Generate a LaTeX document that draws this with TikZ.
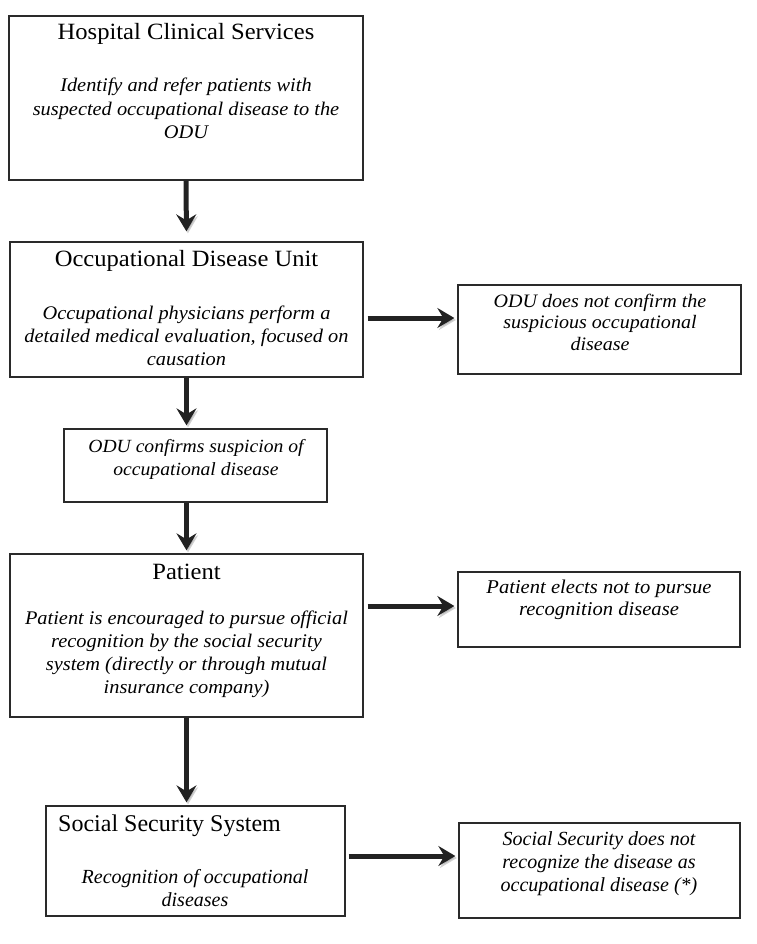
\documentclass[tikz,border=0pt]{standalone}
\usepackage{fontspec}
\setmainfont{Liberation Serif}
\newfontfamily\widefont[FakeStretch=1.055]{Liberation Serif}
\usetikzlibrary{arrows.meta}
\definecolor{boxc}{HTML}{2A2A2A}
\definecolor{arrc}{HTML}{222222}
\begin{document}
\begin{tikzpicture}[x=1pt,y=-1pt,
  box/.style={draw=boxc, line width=1.3pt, fill=white, inner sep=0pt},
  ttl/.style={anchor=base, inner sep=0pt, font=\fontsize{23.3}{27}\widefont},
  itx/.style={anchor=base, inner sep=0pt, align=center, font=\fontsize{19.3}{22.7}\widefont\itshape},
  arr/.style={line width=5pt, draw=arrc, -{Stealth[length=17pt,width=20pt,inset=6pt]},
    preaction={draw=black!40, opacity=0.45, transform canvas={shift={(1.5pt,-2pt)}}}}]
\useasboundingbox (0,0) rectangle (756,944);
% boxes
\node[box, minimum width=354pt, minimum height=164pt] (b1) at (186,98) {};
\node[box, minimum width=353pt, minimum height=135pt] (b2) at (186.5,309.5) {};
\node[box, minimum width=283pt, minimum height=89pt] (b3) at (599.5,329.5) {};
\node[box, minimum width=263pt, minimum height=73pt] (b4) at (195.5,465.5) {};
\node[box, minimum width=353pt, minimum height=163pt] (b5) at (186.5,635.5) {};
\node[box, minimum width=282pt, minimum height=75pt] (b6) at (599,609.5) {};
\node[box, minimum width=299pt, minimum height=110pt] (b7) at (195.5,861) {};
\node[box, minimum width=281pt, minimum height=95pt] (b8) at (599.5,870.5) {};
% texts (multi-line nodes: base = baseline of last line)
\node[ttl] (t1) at (186,40) {Hospital Clinical Services};
\node[itx, font=\fontsize{19.3}{23.5}\widefont\itshape] (i1) at (186,139) {Identify and refer patients with\\suspected occupational disease to the\\ODU};
\node[ttl] (t2) at (186.5,266) {Occupational Disease Unit};
\node[itx] (i2) at (186.5,365) {Occupational physicians perform a\\detailed medical evaluation, focused on\\causation};
\node[itx, font=\fontsize{19}{21.5}\widefont\itshape] (i3) at (600,350) {ODU does not confirm the\\suspicious occupational\\disease};
\node[itx, font=\fontsize{18.6}{23}\widefont\itshape] (i4) at (196,475) {ODU confirms suspicion of\\occupational disease};
\node[ttl] (t5) at (186.5,579) {Patient};
\node[itx] (i5) at (186.5,693) {Patient is encouraged to pursue official\\recognition by the social security\\system (directly or through mutual\\insurance company)};
\node[itx, font=\fontsize{19.5}{22}\widefont\itshape] (i6) at (599,615) {Patient elects not to pursue\\recognition disease};
\node[ttl, anchor=base west, font=\fontsize{24}{28}\selectfont] (t7) at (58,831) {Social Security System};
\node[itx, font=\fontsize{20}{23}\selectfont\itshape] (i7) at (195,906) {Recognition of occupational\\diseases};
\node[itx, font=\fontsize{20}{23}\selectfont\itshape] (i8) at (599,891) {Social Security does not\\recognize the disease as\\occupational disease (*)};
% helper coordinates for horizontal arrows
\coordinate (r1) at (0,318);
\coordinate (r2) at (0,606);
\coordinate (r3) at (0,856);
% arrows
\draw[arr, shorten >=10pt] (b1.south) -- (b2.north);
\draw[arr, shorten >=3pt] (b2.south) -- (b2.south |- b4.north);
\draw[arr, shorten >=3pt] (b2.south |- b4.south) -- (b5.north);
\draw[arr, shorten >=3pt] (b5.south) -- (b5.south |- b7.north);
\draw[arr, shorten <=4pt, shorten >=3pt] (b2.east |- r1) -- (b3.west |- r1);
\draw[arr, shorten <=4pt, shorten >=3pt] (b5.east |- r2) -- (b6.west |- r2);
\draw[arr, shorten <=3pt, shorten >=3pt] (b7.east |- r3) -- (b8.west |- r3);
\end{tikzpicture}
\end{document}
